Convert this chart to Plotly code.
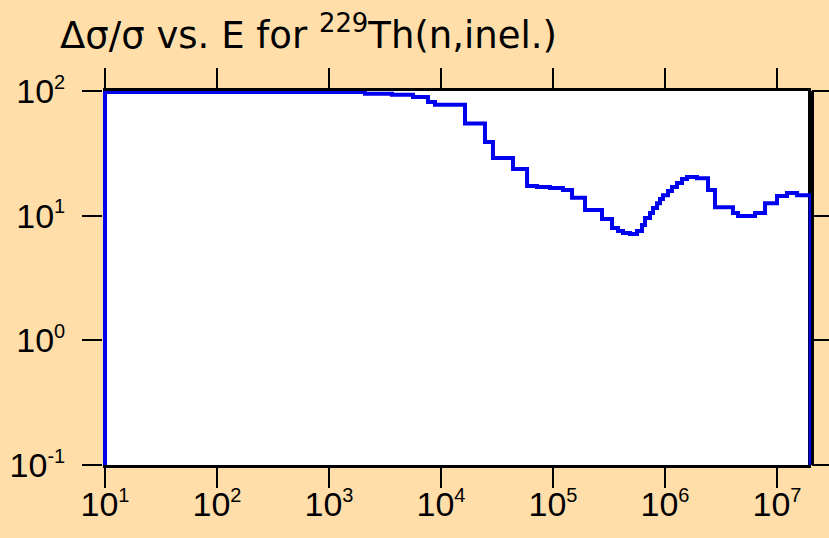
import numpy as np
import plotly.graph_objects as go

# Energy-group lower edges (eV) and relative uncertainty (%) per group
energy_edges = [10, 2095, 3652, 5623, 7656, 8840, 16380, 24700, 29100, 43950,
                58650, 71960, 94000, 122700, 147900, 193200, 273800, 336500,
                380400, 421700, 487000, 562300, 623500, 662800, 734500, 781300,
                848800, 902300, 959100, 1.063e6, 1.155e6, 1.280e6, 1.419e6,
                1.572e6, 1.931e6, 2.422e6, 2.795e6, 4.045e6, 4.484e6, 6.366e6,
                7.82e6, 1.0e7, 1.228e7, 1.510e7]
rel_unc = [98.0, 95.1, 93.4, 89.5, 81.6, 77.6, 54.8, 39.0, 29.0, 23.7,
           17.3, 17.0, 16.7, 16.1, 13.9, 11.1, 9.4, 7.96,
           7.54, 7.26, 7.13, 7.54, 8.41, 9.58, 10.5, 11.5,
           12.6, 13.6, 14.6, 15.8, 17.0, 18.3, 19.7,
           20.4, 20.0, 16.1, 11.7, 10.5, 9.94, 10.5,
           12.6, 14.4, 15.2, 14.6]
e_min, e_max = 10, 2e7
y_floor = 0.1

x_exponents = [1, 2, 3, 4, 5, 6, 7]
y_exponents = [-1, 0, 1, 2]


def power_label(exp):
    return "10<sup><span style='font-size:20px'>%d</span></sup>" % exp


x_tick_vals = [10.0 ** e for e in x_exponents]
x_tick_text = [power_label(e) for e in x_exponents]
y_tick_vals = [10.0 ** e for e in y_exponents]
y_tick_text = [power_label(e) for e in y_exponents]

# Closed step outline: rise from the floor, follow groups, drop at the top edge
xs = [e_min] + energy_edges + [e_max]
ys = [y_floor] + rel_unc + [y_floor]

bg = "#FFDEAA"
tick_font = "Liberation Sans, Arial, sans-serif"
title_font = "DejaVu Sans, Verdana, sans-serif"

fig = go.Figure()
fig.add_trace(go.Scatter(
    x=xs, y=ys, mode="lines",
    line=dict(shape="hv", color="#0000F0", width=4),
    hoverinfo="skip", showlegend=False,
))

# right-hand frame edge, kept beneath the curve
fig.add_shape(type="line", xref="x domain", yref="y domain",
              x0=1, x1=1, y0=0, y1=1,
              line=dict(color="black", width=6), layer="below")

fig.update_layout(
    width=829, height=538,
    paper_bgcolor=bg, plot_bgcolor="white",
    margin=dict(l=103, r=18, t=91, b=73),
    font=dict(family=tick_font, color="black", size=34),
    title=dict(
        text="\u0394\u03c3/\u03c3 vs. E for <sup>229</sup>Th(n,inel.)",
        xref="container", yref="container",
        x=60 / 829, xanchor="left", y=1 - 35 / 538, yanchor="middle",
        font=dict(family=title_font, size=37, color="black"),
    ),
)

fig.update_xaxes(
    type="log", automargin=False,
    range=[1 - 2 / 112, 1 + 706 / 112],
    tickvals=x_tick_vals, ticktext=x_tick_text,
    ticks="outside", ticklen=20, tickwidth=2, tickcolor="black",
    showline=True, linewidth=3, linecolor="black", mirror="ticks",
    showgrid=False, zeroline=False,
    ticklabelstandoff=-13,
    tickfont=dict(size=34),
)
fig.update_yaxes(
    type="log", automargin=False,
    range=[-1, 2],
    tickvals=y_tick_vals, ticktext=y_tick_text,
    ticks="outside", ticklen=20, tickwidth=2, tickcolor="black",
    showline=False, mirror="ticks",
    showgrid=False, zeroline=False,
    ticklabelstandoff=10,
    tickfont=dict(size=34),
)

fig.write_html("out.html")
